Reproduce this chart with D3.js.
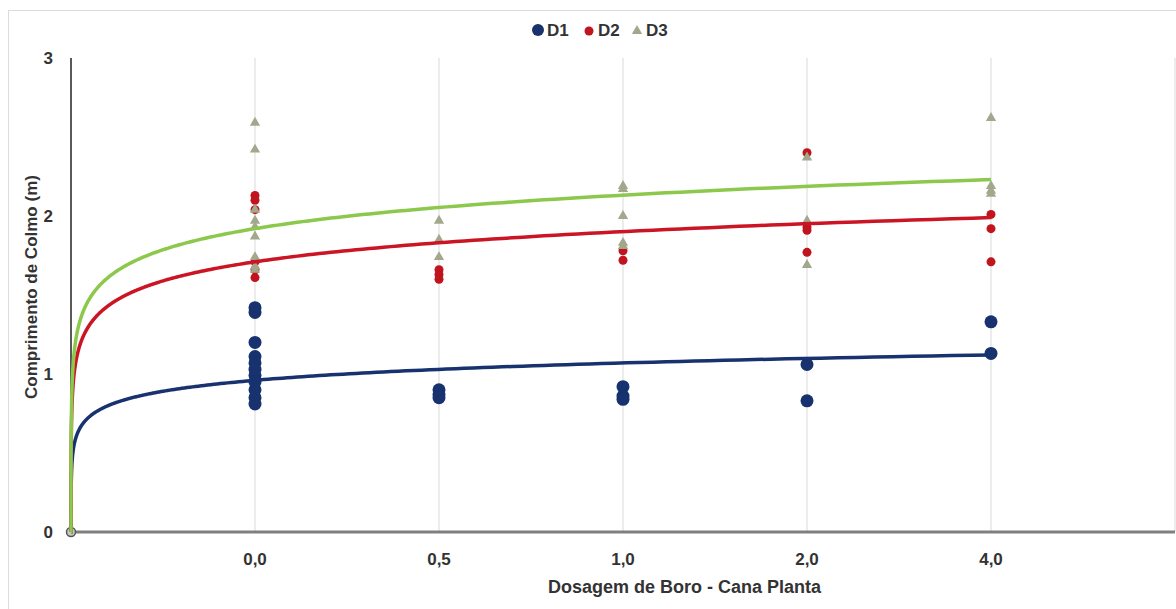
<!DOCTYPE html>
<html>
<head>
<meta charset="utf-8">
<script src="https://cdnjs.cloudflare.com/ajax/libs/d3/7.8.5/d3.min.js"></script>
<style>
  body { margin: 0; background: #fff; }
  text { font-family: "Liberation Sans", Arial, sans-serif; font-weight: bold; fill: #333; }
</style>
</head>
<body>
<div id="vis"></div>
<script>
var width = 1176,
    height = 609;

// categories sit at positions 1..5 of a 0..6 axis
var categories = ["0,0", "0,5", "1,0", "2,0", "4,0"];
var yTicks = [0, 1, 2, 3];

// one inner array per category
var d1Values = [
  [1.42, 1.39, 1.20, 1.11, 1.07, 1.03, 0.99, 0.95, 0.90, 0.85, 0.81],
  [0.90, 0.87, 0.85],
  [0.92, 0.86, 0.84],
  [1.06, 0.83],
  [1.33, 1.13]
];
var d2Values = [
  [2.13, 2.10, 2.04, 1.71, 1.66, 1.61],
  [1.66, 1.63, 1.60],
  [1.78, 1.72],
  [2.40, 1.93, 1.91, 1.77],
  [2.01, 1.92, 1.71]
];
var d3Values = [
  [2.59, 2.42, 2.04, 1.97, 1.93, 1.87, 1.74, 1.68, 1.66],
  [1.97, 1.85, 1.74],
  [2.19, 2.17, 2.00, 1.83, 1.81],
  [2.37, 1.97, 1.69],
  [2.62, 2.19, 2.16, 2.14]
];

// logarithmic trendlines y = a + b*ln(x)
var seriesNames = ["D1", "D2", "D3"];
var trendA = [0.96, 1.71, 1.92];
var trendB = [0.100, 0.174, 0.193];

var markerColor = ["#17326f", "#c0141e", "#a2a88b"];
var lineColor = ["#17326f", "#cc1524", "#8cc84b"];

var svg = d3.select("#vis").append("svg")
    .attr("width", width)
    .attr("height", height);

// outer frame (right and bottom edges fall outside the picture)
svg.append("rect")
    .attr("x", 8.5).attr("y", 10.5)
    .attr("width", width).attr("height", height)
    .style("fill", "none")
    .style("stroke", "#dcdcdc");

var x = d3.scaleLinear().domain([0, 6]).range([71, 1175]);
var y = d3.scaleLinear().domain([0, 3]).range([532, 58]);

// vertical gridlines
svg.append("g").selectAll("line")
    .data(d3.range(1, 7))
    .enter().append("line")
    .attr("x1", function(d) { return x(d); })
    .attr("x2", function(d) { return x(d); })
    .attr("y1", y(3)).attr("y2", y(0))
    .style("stroke", "#d9d9d9")
    .style("stroke-width", 1);

// axes lines
svg.append("line")
    .attr("x1", x(0)).attr("x2", x(0))
    .attr("y1", y(3)).attr("y2", y(0))
    .style("stroke", "#595959").style("stroke-width", 2);
svg.append("line")
    .attr("x1", x(0)).attr("x2", x(6))
    .attr("y1", y(0)).attr("y2", y(0))
    .style("stroke", "#7f7f7f").style("stroke-width", 3);

// tick labels
svg.append("g").selectAll("text")
    .data(yTicks)
    .enter().append("text")
    .attr("x", 53)
    .attr("y", function(d) { return y(d) + 6; })
    .style("text-anchor", "end")
    .style("font-size", "17px")
    .text(function(d) { return d; });

svg.append("g").selectAll("text")
    .data(categories)
    .enter().append("text")
    .attr("x", function(d, i) { return x(i + 1); })
    .attr("y", 565)
    .style("text-anchor", "middle")
    .style("font-size", "17px")
    .text(function(d) { return d; });

// axis titles
svg.append("text")
    .attr("x", 548)
    .attr("y", 593)
    .style("text-anchor", "start")
    .style("font-size", "18px")
    .text("Dosagem de Boro - Cana Planta");

svg.append("text")
    .attr("transform", "translate(37," + 287 + ") rotate(-90)")
    .style("text-anchor", "middle")
    .style("font-size", "17px")
    .text("Comprimento de Colmo (m)");

// flatten each series into points
function toPoints(values) {
    var pts = [];
    values.forEach(function(list, i) {
        list.forEach(function(v) { pts.push([i + 1, v]); });
    });
    return pts;
}

svg.append("g").selectAll("circle")
    .data(toPoints(d1Values))
    .enter().append("circle")
    .attr("cx", function(d) { return x(d[0]); })
    .attr("cy", function(d) { return y(d[1]); })
    .attr("r", 6.5)
    .style("fill", markerColor[0]);

svg.append("g").selectAll("circle")
    .data(toPoints(d2Values))
    .enter().append("circle")
    .attr("cx", function(d) { return x(d[0]); })
    .attr("cy", function(d) { return y(d[1]); })
    .attr("r", 4.5)
    .style("fill", markerColor[1]);

var tri = d3.symbol().type(d3.symbolTriangle).size(46);
svg.append("g").selectAll("path")
    .data(toPoints(d3Values))
    .enter().append("path")
    .attr("d", tri)
    .attr("transform", function(d) { return "translate(" + x(d[0]) + "," + y(d[1]) + ")"; })
    .style("fill", markerColor[2]);

// origin marker
svg.append("circle")
    .attr("cx", x(0)).attr("cy", y(0))
    .attr("r", 4.5)
    .style("fill", "#c8c8c8")
    .style("stroke", "#555")
    .style("stroke-width", 1.5);

// trendlines
var xs = d3.range(-5, Math.log10(5) + 0.0001, 0.01).map(function(e) { return Math.pow(10, e); });
xs.push(5);
var line = d3.line()
    .x(function(d) { return x(d[0]); })
    .y(function(d) { return y(d[1]); });

[0, 1, 2].forEach(function(k) {
    var pts = xs.map(function(v) {
        return [v, Math.max(0, trendA[k] + trendB[k] * Math.log(v))];
    });
    svg.append("path")
        .datum(pts)
        .attr("d", line)
        .style("fill", "none")
        .style("stroke", lineColor[k])
        .style("stroke-width", 3.5);
});

// legend
var legendX = [538, 589, 637];
var legend = svg.append("g");
legend.append("circle").attr("cx", legendX[0]).attr("cy", 30).attr("r", 6).style("fill", markerColor[0]);
legend.append("circle").attr("cx", legendX[1]).attr("cy", 31).attr("r", 4.5).style("fill", markerColor[1]);
legend.append("path").attr("d", tri).attr("transform", "translate(" + legendX[2] + ",31)").style("fill", markerColor[2]);
legend.selectAll("text")
    .data(seriesNames)
    .enter().append("text")
    .attr("x", function(d, i) { return legendX[i] + 9; })
    .attr("y", 36)
    .style("font-size", "17px")
    .text(function(d) { return d; });
</script>
</body>
</html>
